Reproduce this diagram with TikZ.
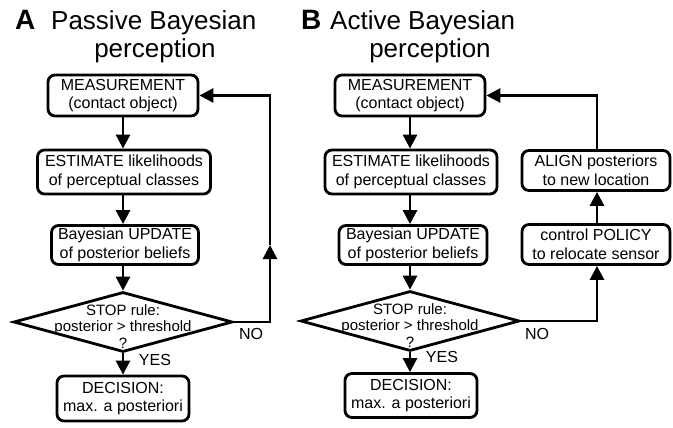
\documentclass[tikz,border=0pt]{standalone}
\usepackage{fontspec}
\setmainfont{Liberation Sans}
\usetikzlibrary{arrows.meta,shapes.geometric}
\begin{document}
\begin{tikzpicture}[x=1pt,y=-1pt,
  box/.style={draw,line width=2.8pt,rounded corners=7pt,align=center,inner sep=0pt,font=\fontsize{16}{18.5}\selectfont},
  dia/.style={draw,diamond,line width=2.8pt,inner sep=0pt,minimum width=219pt,minimum height=60pt},
  dtext/.style={align=center,inner sep=0pt,font=\fontsize{15}{16.5}\selectfont},
  lab/.style={inner sep=0pt,font=\fontsize{16}{18}\selectfont},
  ttl/.style={inner sep=0pt,anchor=base west,font=\fontsize{26}{28}\selectfont},
  ttlb/.style={inner sep=0pt,anchor=base west,font=\fontsize{28}{30}\selectfont\bfseries},
  arr/.style={line width=2.8pt,-{Triangle[length=14pt,width=14pt]}},
  ln/.style={line width=2.8pt}
]
\useasboundingbox (0,0) rectangle (673,428);
% ---------- titles
\node[ttlb] (tA) at (15,29.5) {A};
\node[ttl] (tA1) at (51,30) {Passive Bayesian};
\node[inner sep=0pt,anchor=base,font=\fontsize{26}{28}\selectfont] (tA2) at (155,58) {perception};
\node[ttlb] (tB) at (301,29.5) {B};
\node[ttl] (tB1) at (330,30) {Active Bayesian};
\node[inner sep=0pt,anchor=base,font=\fontsize{26}{28}\selectfont] (tB2) at (430,58) {perception};
% ---------- panel A
\node[box,minimum width=150pt,minimum height=41pt] (mA) at (123,95.5) {MEASUREMENT\\(contact object)};
\node[box,minimum width=173pt,minimum height=44pt] (eA) at (124,172) {ESTIMATE likelihoods\\of perceptual classes};
\node[box,minimum width=147pt,minimum height=39pt] (uA) at (125,245) {Bayesian UPDATE\\of posterior beliefs};
\node[dia] (dA) at (123,322) {};
\node[dtext] (dAt) at ([yshift=-4.5pt]dA.center) {STOP rule:\\posterior > threshold\\?};
\node[box,minimum width=132pt,minimum height=45pt] (decA) at (123,398.5) {DECISION:\\max. a posteriori};
\node[lab] (noA) at (251,334) {NO};
\node[lab] (yesA) at (155,360) {YES};
\coordinate (cA1) at (270,322);
\coordinate (cA2) at (270,245);
\coordinate (cA3) at (270,95.5);
\draw[arr] (mA.south) -- (mA.south |- eA.north);
\draw[arr] (eA.south -| mA.south) -- (uA.north -| mA.south);
\draw[arr] (uA.south -| mA.south) -- (dA.north);
\draw[arr] (dA.south) -- (dA.south |- decA.north);
\draw[arr] (dA.east) -- (cA1) -- (cA2);
\draw[arr] (cA2) -- (cA3) -- (mA.east);
% ---------- panel B
\node[box,minimum width=150pt,minimum height=41pt] (mB) at (410,95.5) {MEASUREMENT\\(contact object)};
\node[box,minimum width=172pt,minimum height=44pt] (eB) at (411,172) {ESTIMATE likelihoods\\of perceptual classes};
\node[box,minimum width=148pt,minimum height=39pt] (uB) at (413,245) {Bayesian UPDATE\\of posterior beliefs};
\node[dia] (dB) at (410,321) {};
\node[dtext] (dBt) at ([yshift=-4.5pt]dB.center) {STOP rule:\\posterior > threshold\\?};
\node[box,minimum width=132pt,minimum height=44pt] (decB) at (411,395.5) {DECISION:\\max. a posteriori};
\node[box,minimum width=148pt,minimum height=40pt] (alB) at (596,170.5) {ALIGN posteriors\\to new location};
\node[box,minimum width=148pt,minimum height=40pt] (poB) at (596,244.5) {control POLICY\\to relocate sensor};
\node[lab] (noB) at (537,334) {NO};
\node[lab] (yesB) at (442,357) {YES};
\coordinate (cB1) at (597,321);
\coordinate (cB3) at (597,95.5);
\draw[arr] (mB.south) -- (mB.south |- eB.north);
\draw[arr] (eB.south -| mB.south) -- (uB.north -| mB.south);
\draw[arr] (uB.south -| mB.south) -- (dB.north);
\draw[arr] (dB.south) -- (dB.south |- decB.north);
\draw[arr] (dB.east) -- (cB1) -- (cB1 |- poB.south);
\draw[arr] (poB.north -| cB1) -- (alB.south -| cB1);
\draw[arr] (alB.north -| cB1) -- (cB3) -- (mB.east);
\end{tikzpicture}
\end{document}
